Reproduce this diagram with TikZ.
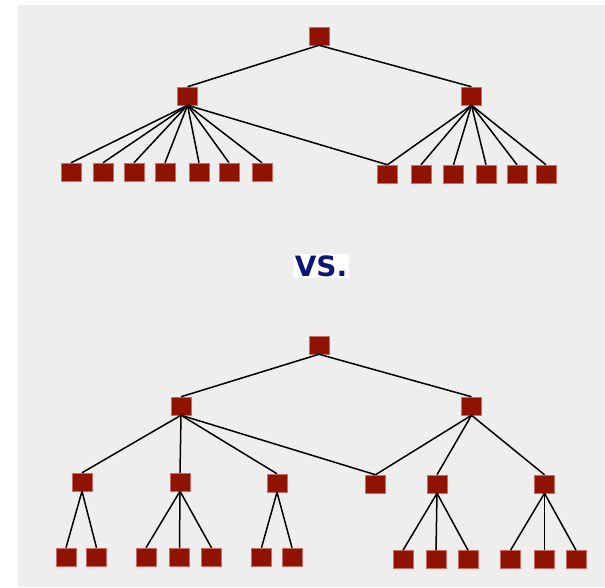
\documentclass[tikz,border=0pt]{standalone}
\usepackage{fontspec}
\newfontfamily\vsfont{DejaVu Sans}
\definecolor{bg}{RGB}{238,238,238}
\definecolor{boxred}{RGB}{143,19,0}
\definecolor{boxedge}{RGB}{200,110,100}
\definecolor{vsblue}{RGB}{12,22,120}
\begin{document}
\begin{tikzpicture}[x=1pt,y=-1pt,
  sq/.style={fill=boxred,draw=boxedge,line width=0.5pt,minimum width=20pt,minimum height=18pt,inner sep=0pt},
  ln/.style={draw=black,line width=1.5pt}]
\useasboundingbox (0,0) rectangle (605,587);
\fill[bg] (18,5) rectangle (605,587);
% top tree
\node[sq] (r) at (319,36) {};
\node[sq] (a) at (187.5,96) {};
\node[sq] (b) at (471.5,96) {};
\foreach \x [count=\i] in {71,103,134,165,199,229,262}
  \node[sq] (a\i) at (\x,172) {};
\foreach \x [count=\i] in {387.5,421,453.5,486,517,546}
  \node[sq] (b\i) at (\x,174) {};
\draw[ln] (r.south) -- (a.north);
\draw[ln] (r.south) -- (b.north);
\foreach \i in {1,...,7} \draw[ln] (a.south) -- (a\i.north);
\draw[ln] (a.south) -- (b1.north);
\foreach \i in {1,...,6} \draw[ln] (b.south) -- (b\i.north);
% vs
\node[fill=white,inner sep=1.5pt,text=vsblue,font=\vsfont\bfseries\fontsize{28}{28}\selectfont] (vs) at (321,266) {VS.};
% bottom tree
\node[sq] (R) at (319,345) {};
\node[sq] (A) at (181,406) {};
\node[sq] (B) at (471.5,406) {};
\node[sq] (A1) at (82,482) {};
\node[sq] (A2) at (180,482) {};
\node[sq] (A3) at (277,483) {};
\node[sq] (M) at (375.5,484) {};
\node[sq] (B1) at (437,484) {};
\node[sq] (B2) at (544.5,484) {};
\node[sq] (A11) at (66,557) {};
\node[sq] (A12) at (96.5,557) {};
\node[sq] (A21) at (146,557) {};
\node[sq] (A22) at (179.5,557) {};
\node[sq] (A23) at (211.5,557) {};
\node[sq] (A31) at (261.5,557) {};
\node[sq] (A32) at (292,557) {};
\node[sq] (B11) at (403,559.5) {};
\node[sq] (B12) at (436,559.5) {};
\node[sq] (B13) at (468,559.5) {};
\node[sq] (B21) at (510.5,559.5) {};
\node[sq] (B22) at (544.5,559.5) {};
\node[sq] (B23) at (576,559.5) {};
\draw[ln] (R.south) -- (A.north);
\draw[ln] (R.south) -- (B.north);
\foreach \c in {A1,A2,A3,M} \draw[ln] (A.south) -- (\c.north);
\foreach \c in {M,B1,B2} \draw[ln] (B.south) -- (\c.north);
\foreach \c in {A11,A12} \draw[ln] (A1.south) -- (\c.north);
\foreach \c in {A21,A22,A23} \draw[ln] (A2.south) -- (\c.north);
\foreach \c in {A31,A32} \draw[ln] (A3.south) -- (\c.north);
\foreach \c in {B11,B12,B13} \draw[ln] (B1.south) -- (\c.north);
\foreach \c in {B21,B22,B23} \draw[ln] (B2.south) -- (\c.north);
\end{tikzpicture}
\end{document}
